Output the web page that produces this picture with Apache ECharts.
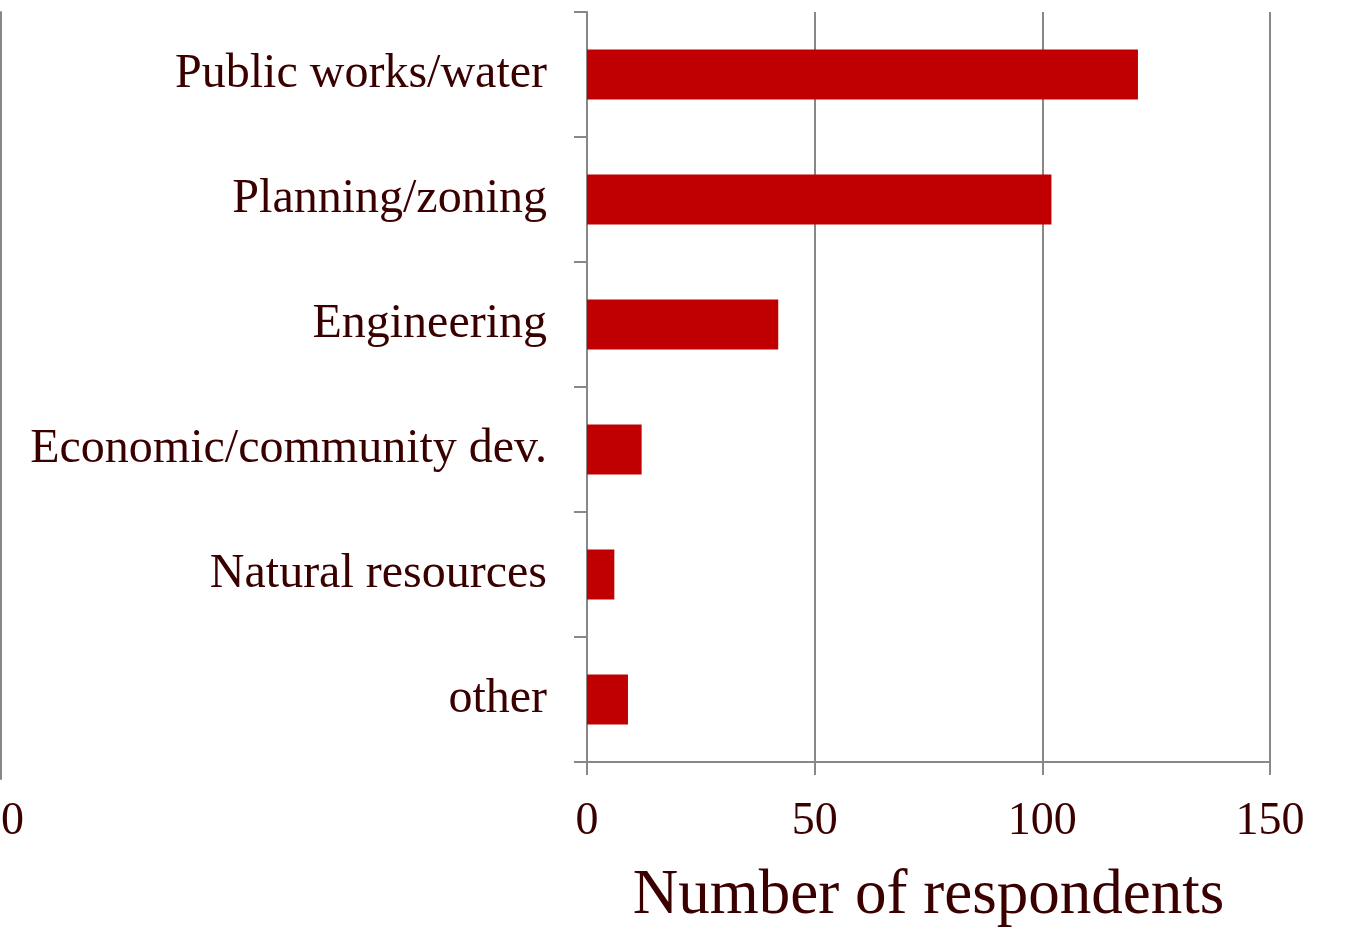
<!DOCTYPE html>
<html>
<head>
<meta charset="utf-8">
<script src="https://cdn.jsdelivr.net/npm/echarts@6/dist/echarts.min.js"></script>
<style>
  html, body { margin: 0; padding: 0; background: #ffffff; overflow: hidden; }
  #chart { width: 1347px; height: 927px; }
</style>
</head>
<body>
<div id="chart"></div>
<script>
// Departments of respondents, listed top to bottom
const categories = [
  'Public works/water',
  'Planning/zoning',
  'Engineering',
  'Economic/community dev.',
  'Natural resources',
  'other'
];
const respondents = [121, 102, 42, 12, 6, 9];
const xTicks = { min: 0, max: 150, interval: 50 };
const axisTitle = 'Number of respondents';

const textColor = '#3a0000';
const lineColor = '#888888';
const fontFamily = '"Liberation Serif", "Times New Roman", serif';

const chart = echarts.init(document.getElementById('chart'), null, { renderer: 'canvas' });

chart.setOption({
  backgroundColor: '#ffffff',
  animation: false,
  textStyle: { fontFamily: fontFamily, color: textColor },
  grid: [
    { left: 587, right: 77, top: 12, bottom: 165, containLabel: false, outerBoundsMode: 'none' },
    { left: 1, width: 580, top: 12, bottom: 148, containLabel: false, outerBoundsMode: 'none' }
  ],
  xAxis: [
    {
      gridIndex: 0,
      type: 'value',
      min: xTicks.min,
      max: xTicks.max,
      interval: xTicks.interval,
      name: axisTitle,
      nameLocation: 'middle',
      nameGap: 103,
      nameTextStyle: { fontSize: 63, color: textColor, fontFamily: fontFamily },
      axisLine: { show: true, lineStyle: { color: lineColor, width: 2 } },
      axisTick: { show: true, length: 13, lineStyle: { color: lineColor, width: 2 } },
      axisLabel: { margin: 37, fontSize: 46, color: textColor, fontFamily: fontFamily },
      splitLine: { show: true, lineStyle: { color: lineColor, width: 2 } }
    },
    {
      gridIndex: 1,
      type: 'value',
      min: 0,
      max: 1,
      interval: 1,
      axisLine: { show: false },
      axisTick: { show: false },
      splitLine: { show: false },
      axisLabel: {
        margin: 20,
        fontSize: 46,
        color: textColor,
        fontFamily: fontFamily,
        align: 'left',
        formatter: v => (v === 0 ? '0' : '')
      }
    }
  ],
  yAxis: [
    {
      gridIndex: 0,
      type: 'category',
      inverse: true,
      data: categories,
      axisLine: { show: true, lineStyle: { color: lineColor, width: 2 } },
      axisTick: { show: true, length: 13, lineStyle: { color: lineColor, width: 2 } },
      axisLabel: {
        margin: 40,
        fontSize: 48,
        color: textColor,
        fontFamily: fontFamily,
        padding: [5, 0, 0, 0]
      },
      splitLine: { show: false }
    },
    {
      gridIndex: 1,
      type: 'category',
      inverse: true,
      data: categories,
      axisLine: { show: true, lineStyle: { color: lineColor, width: 2 } },
      axisTick: { show: false },
      axisLabel: { show: false },
      splitLine: { show: false }
    }
  ],
  series: [
    {
      type: 'bar',
      xAxisIndex: 0,
      yAxisIndex: 0,
      data: respondents,
      barCategoryGap: '60%',
      itemStyle: { color: '#c00000' }
    }
  ]
});
</script>
</body>
</html>
